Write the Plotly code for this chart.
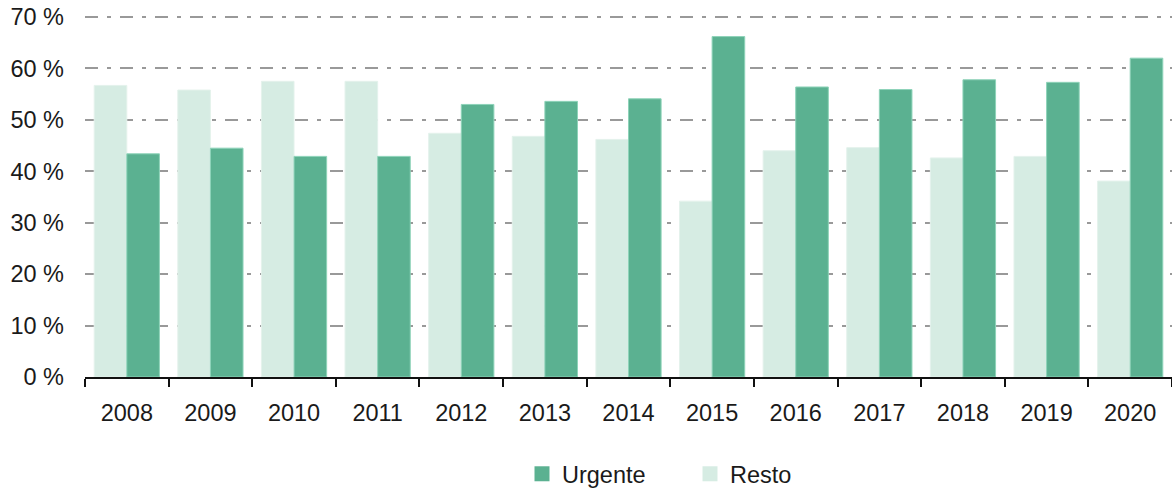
import plotly.graph_objects as go

years = ["2008", "2009", "2010", "2011", "2012", "2013", "2014",
         "2015", "2016", "2017", "2018", "2019", "2020"]
resto = [56.7, 55.8, 57.5, 57.5, 47.4, 46.8, 46.2, 34.2, 44.0, 44.6, 42.6, 42.9, 38.1]
urgente = [43.4, 44.5, 42.9, 42.9, 53.0, 53.6, 54.1, 66.2, 56.4, 55.9, 57.8, 57.3, 62.0]
y_ticks = [0, 10, 20, 30, 40, 50, 60, 70]
y_labels = [f"{v} %" for v in y_ticks]

C_URG = "#5bb191"
C_RES = "#d6ece3"
FONT = "Liberation Sans, Arial, sans-serif"
TXT = "#1a1a1a"
FS = 23.5

fig = go.Figure()
fig.add_trace(go.Bar(name="Resto", x=years, y=resto, marker_color=C_RES,
                     marker_line_color="#e4f2ec", marker_line_width=1,
                     showlegend=False))
fig.add_trace(go.Bar(name="Urgente", x=years, y=urgente, marker_color=C_URG,
                     marker_line_color="#8ed3b9", marker_line_width=1,
                     showlegend=False))
# legend entries
fig.add_trace(go.Scatter(name="Urgente", x=[None], y=[None], mode="markers",
                         marker=dict(symbol="square", size=15, color=C_URG)))
fig.add_trace(go.Scatter(name="Resto", x=[None], y=[None], mode="markers",
                         marker=dict(symbol="square", size=15, color=C_RES)))

fig.update_layout(
    width=1172, height=490,
    margin=dict(l=85, r=0, t=16, b=113),
    paper_bgcolor="white", plot_bgcolor="white",
    barmode="group", bargap=0.22, bargroupgap=0,
    font=dict(family=FONT, size=FS, color=TXT),
    legend=dict(orientation="h", xref="container", yref="container",
                x=522/1172, xanchor="left", y=1 - 474/490, yanchor="middle",
                font=dict(size=FS, color=TXT), entrywidth=123,
                itemsizing="trace"),
)
fig.update_xaxes(
    type="category", showgrid=False, showline=True, linecolor="#111",
    linewidth=1.5, ticks="outside", tickson="boundaries", ticklen=8,
    tickcolor="#111", tickwidth=1.5, range=[-0.5, 12.5],
    tickfont=dict(size=FS, color=TXT), ticklabelstandoff=14,
)
fig.update_yaxes(
    range=[0, 70.2], tickmode="array", tickvals=y_ticks, ticktext=y_labels,
    showline=False, showgrid=True, gridcolor="#999999", gridwidth=1.5,
    griddash="13px,9px,4px,9px", zeroline=False,
    tickfont=dict(size=FS, color=TXT), ticklabelstandoff=20,
)

fig.write_html("out.html", config={"displayModeBar": False},
               post_script="document.body.style.margin='0';")
